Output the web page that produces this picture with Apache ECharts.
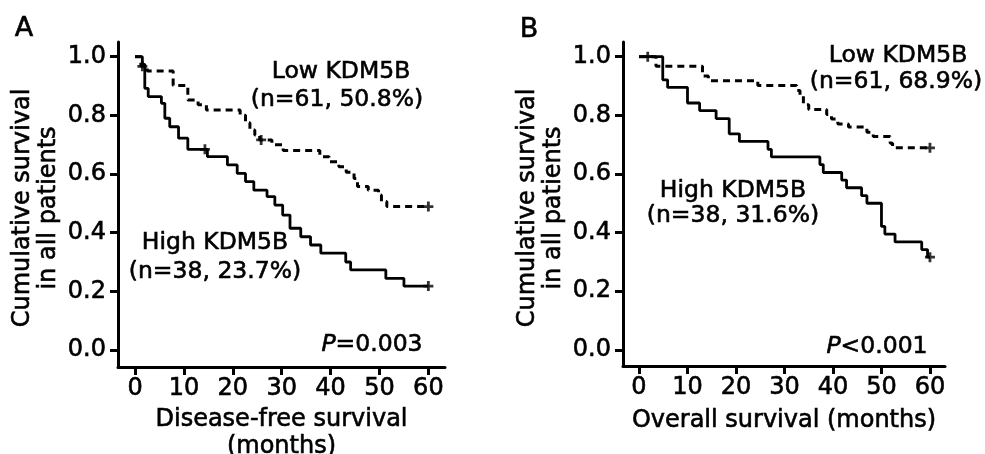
<!DOCTYPE html>
<html>
<head>
<meta charset="utf-8">
<script src="https://cdn.jsdelivr.net/npm/echarts@6/dist/echarts.min.js"></script>
<style>
html,body{margin:0;padding:0;background:#fff;}
#chart{width:985px;height:454px;}
</style>
</head>
<body>
<div id="chart"></div>
<script>
// ---- Data ----
var xTicks = [0, 10, 20, 30, 40, 50, 60];
var yTicks = [0, 0.2, 0.4, 0.6, 0.8, 1.0];

// Panel A: disease-free survival
var highA_t = [0,1.5,2.0,2.7,5.4,6.1,7.1,8.9,10.8,14.8,18.9,20.9,22.6,24.3,27.0,28.6,30.2,31.7,33.9,35.9,38.0,43.1,44.1,51.3,55.0,60];
var highA_s = [1.0,0.974,0.892,0.864,0.841,0.790,0.761,0.722,0.684,0.659,0.631,0.602,0.574,0.545,0.523,0.494,0.460,0.415,0.386,0.358,0.330,0.300,0.273,0.244,0.218,0.218];
var lowA_t = [0,1.2,2.5,7.8,10.8,12.9,14.6,21.5,22.6,23.5,24.5,25.5,28.0,30.3,37.8,39.7,41.7,43.2,44.8,45.5,47.7,49.8,50.4,51.5,60];
var lowA_s = [1.0,0.967,0.951,0.902,0.852,0.836,0.818,0.800,0.775,0.750,0.733,0.716,0.700,0.680,0.659,0.642,0.625,0.606,0.585,0.557,0.545,0.528,0.506,0.489,0.489];
var censHighA_t = [14.3, 60];
var censHighA_s = [0.684, 0.218];
var censLowA_t = [1.5, 25.8, 60];
var censLowA_s = [0.967, 0.716, 0.489];

// Panel B: overall survival
var highB_t = [0,4.9,5.9,10.0,12.5,15.9,18.6,20.7,26.6,27.3,37.3,38.0,41.8,42.8,45.9,47.0,50.0,50.7,52.8,58.3,59.5,60];
var highB_s = [1.0,0.921,0.895,0.842,0.816,0.789,0.737,0.711,0.684,0.658,0.632,0.605,0.579,0.553,0.526,0.500,0.421,0.395,0.368,0.342,0.316,0.316];
var lowB_t = [0,3.5,13.1,14.3,24.5,32.5,33.2,33.9,35.0,38.7,39.7,41.0,43.2,47.0,48.3,51.8,52.3,60];
var lowB_s = [1.0,0.967,0.934,0.918,0.902,0.885,0.869,0.836,0.820,0.803,0.787,0.770,0.760,0.742,0.728,0.705,0.689,0.689];
var censHighB_t = [1.8, 60];
var censHighB_s = [1.0, 0.316];
var censLowB_t = [60];
var censLowB_s = [0.689];

function zip(t, s) { return t.map(function (v, i) { return [v, s[i]]; }); }

var FONT = 'DejaVu Sans';
var STROKE = 0.6;
var plusPath = 'path://M0,3.6H10V6.4H0Z M3.6,0H6.4V10H3.6Z';

function xAxisCfg(gi, min, max, name, gap) {
  return {
    type: 'value', gridIndex: gi, min: min, max: max,
    name: name, nameLocation: 'middle', nameGap: gap,
    nameTextStyle: { fontFamily: FONT, fontSize: 24, color: '#000', lineHeight: 27,
      textBorderColor: '#000', textBorderWidth: STROKE },
    axisLine: { show: true, onZero: false, lineStyle: { color: '#000', width: 3 } },
    axisTick: { show: true, length: 8, lineStyle: { color: '#000', width: 3 }, customValues: xTicks },
    axisLabel: { fontFamily: FONT, fontSize: 24, color: '#000', margin: 10, customValues: xTicks,
      textBorderColor: '#000', textBorderWidth: STROKE },
    splitLine: { show: false }
  };
}
function yAxisCfg(gi, min, max) {
  return {
    type: 'value', gridIndex: gi, min: min, max: max,
    axisLine: { show: true, onZero: false, lineStyle: { color: '#000', width: 3 } },
    axisTick: { show: true, length: 8, lineStyle: { color: '#000', width: 3 }, customValues: yTicks },
    axisLabel: { fontFamily: FONT, fontSize: 24, color: '#000', margin: 12, customValues: yTicks,
      textBorderColor: '#000', textBorderWidth: STROKE,
      formatter: function (v) { return v.toFixed(1); } },
    splitLine: { show: false }
  };
}
function lineSeries(xi, data, dashed) {
  return {
    type: 'line', xAxisIndex: xi, yAxisIndex: xi, data: data, step: 'end',
    showSymbol: false, silent: true,
    lineStyle: { color: '#000', width: dashed ? 3 : 2.8, type: dashed ? [7, 5] : 'solid' },
    z: 3
  };
}
function censSeries(xi, data) {
  return {
    type: 'scatter', xAxisIndex: xi, yAxisIndex: xi, data: data,
    symbol: plusPath, symbolSize: 10, silent: true,
    itemStyle: { color: '#000' }, z: 4
  };
}
function txt(x, y, text, size, extra) {
  var st = { text: text, x: 0, y: 0, fill: '#000', align: 'center', verticalAlign: 'middle',
    fontFamily: FONT, fontSize: size, stroke: '#000', lineWidth: STROKE,
    rich: { i: { fontStyle: 'italic', fontFamily: FONT, fontSize: size, fill: '#000', stroke: '#000', lineWidth: STROKE },
            n: { fontFamily: FONT, fontSize: size, fill: '#000', stroke: '#000', lineWidth: STROKE } } };
  if (extra) { for (var k in extra) st[k] = extra[k]; }
  return { type: 'text', x: x, y: y, style: st, silent: true };
}
function rtxt(x, y, text, size) {
  var el = txt(x, y, text, size);
  el.rotation = Math.PI / 2;
  return el;
}

var chart = echarts.init(document.getElementById('chart'), null, { renderer: 'canvas' });
chart.setOption({
  animation: false,
  backgroundColor: '#fff',
  grid: [
    { left: 118, top: 42, width: 327, height: 325, containLabel: false, outerBoundsMode: 'none' },
    { left: 623, top: 42, width: 322, height: 324, containLabel: false, outerBoundsMode: 'none' }
  ],
  xAxis: [
    xAxisCfg(0, -3.48, 63.4, 'Disease-free survival\n(months)', 39),
    xAxisCfg(1, -3.3, 63.1, 'Overall survival (months)', 41)
  ],
  yAxis: [
    yAxisCfg(0, -0.058, 1.05),
    yAxisCfg(1, -0.055, 1.05)
  ],
  series: [
    lineSeries(0, zip(lowA_t, lowA_s), true),
    lineSeries(0, zip(highA_t, highA_s), false),
    censSeries(0, zip(censLowA_t, censLowA_s)),
    censSeries(0, zip(censHighA_t, censHighA_s)),
    lineSeries(1, zip(lowB_t, lowB_s), true),
    lineSeries(1, zip(highB_t, highB_s), false),
    censSeries(1, zip(censLowB_t, censLowB_s)),
    censSeries(1, zip(censHighB_t, censHighB_s))
  ],
  graphic: [
    txt(24, 29, 'A', 27),
    txt(529, 30, 'B', 27),
    rtxt(23, 208, 'Cumulative survival', 24),
    rtxt(49, 208, 'in all patients', 24),
    rtxt(528, 208, 'Cumulative survival', 24),
    rtxt(554, 208, 'in all patients', 24),
    txt(341, 72, 'Low KDM5B', 23.5),
    txt(337, 100, '(n=61, 50.8%)', 23.5),
    txt(215, 243, 'High KDM5B', 23.5),
    txt(215, 272, '(n=38, 23.7%)', 23.5),
    txt(372, 345, '{i|P}{n|=0.003}', 23.5),
    txt(898, 56, 'Low KDM5B', 23.5),
    txt(896, 82, '(n=61, 68.9%)', 23.5),
    txt(733, 191, 'High KDM5B', 23.5),
    txt(733, 216, '(n=38, 31.6%)', 23.5),
    txt(877, 347, '{i|P}{n|<0.001}', 23.5)
  ]
});
</script>
</body>
</html>
